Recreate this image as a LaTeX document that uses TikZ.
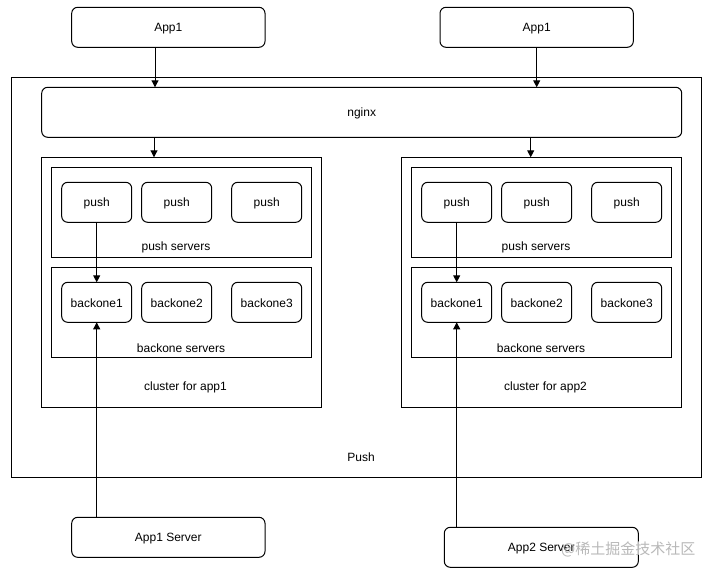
\documentclass[tikz,border=0pt]{standalone}
\usepackage{fontspec}
\setmainfont{Liberation Sans}
\newfontfamily\cjk{Noto Sans CJK SC}
\usetikzlibrary{arrows.meta}
\begin{document}
\begin{tikzpicture}[x=1pt,y=-1pt,
  font=\fontsize{12}{14}\selectfont,
  every node/.style={inner sep=0pt},
  rbox/.style={draw, rounded corners=6pt, line width=1pt},
  sbox/.style={draw, line width=1pt},
  lbl/.style={anchor=center, yshift=-1pt},
  conn/.style={line width=1pt, -{Triangle[length=7pt,width=7pt]}}]
\useasboundingbox (0,0) rectangle (714,577);
% outer Push box
\draw[sbox] (11.7,77.3) rectangle (701.7,477.3);
\node[lbl] (pushlbl) at (361,456) {Push};
% top apps
\draw[rbox] (71.7,7.3) rectangle (265,47.3);
\node[lbl] (app1a) at (168.3,27.3) {App1};
\coordinate (app1aS) at (155,47.3);
\draw[rbox] (440,7.3) rectangle (633.3,47.3);
\node[lbl] (app1b) at (536.7,27.3) {App1};
\coordinate (app1bS) at (536.7,47.3);
% nginx
\draw[rbox] (41.7,87.3) rectangle (681.7,137.3);
\node[lbl] (nginx) at (361.7,112.3) {nginx};
\coordinate (ngxT1) at (155,87.3);
\coordinate (ngxT2) at (536.7,87.3);
\coordinate (ngxB1) at (154,137.3);
\coordinate (ngxB2) at (530.7,137.3);
\coordinate (cl1T) at (154,157.3);
\coordinate (cl2T) at (530.7,157.3);
\draw[conn] (app1aS) -- (ngxT1);
\draw[conn] (app1bS) -- (ngxT2);
\draw[conn] (ngxB1) -- (cl1T);
\draw[conn] (ngxB2) -- (cl2T);
% clusters
\foreach \dx/\n in {0/1,360/2} {
  \begin{scope}[xshift=\dx]
  \draw[sbox] (41.7,157.3) rectangle (321.7,407.3);
  \node[lbl] at (185.5,386) {cluster for app\n};
  \draw[sbox] (51.7,167.3) rectangle (311.7,257.3);
  \node[lbl] at (176,246.5) {push servers};
  \draw[sbox] (51.7,267.3) rectangle (311.7,357.3);
  \node[lbl] at (181,347) {backone servers};
  \draw[rbox] (61.7,182.3) rectangle (131.7,222.3);
  \node[lbl] (pA\n) at (96.7,202.3) {push};
  \draw[rbox] (141.7,182.3) rectangle (211.7,222.3);
  \node[lbl] (pB\n) at (176.7,202.3) {push};
  \draw[rbox] (231.7,182.3) rectangle (301.7,222.3);
  \node[lbl] (pC\n) at (266.7,202.3) {push};
  \draw[rbox] (61.7,282.3) rectangle (131.7,322.3);
  \node[lbl] (bA\n) at (96.7,302.3) {backone1};
  \draw[rbox] (141.7,282.3) rectangle (211.7,322.3);
  \node[lbl] (bB\n) at (176.7,302.3) {backone2};
  \draw[rbox] (231.7,282.3) rectangle (301.7,322.3);
  \node[lbl] (bC\n) at (266.7,302.3) {backone3};
  \coordinate (pAs\n) at (96.7,222.3);
  \coordinate (bAn\n) at (96.7,282.3);
  \coordinate (bAs\n) at (96.7,322.3);
  \draw[conn] (pAs\n) -- (bAn\n);
  \end{scope}
}
% servers
\draw[rbox] (71.7,517.3) rectangle (265,557.3);
\node[lbl] (srv1) at (168.3,537.3) {App1 Server};
\coordinate (srv1N) at (96.7,517.3);
\coordinate (b1S) at (96.7,322.3);
\draw[conn] (srv1N) -- (b1S);
\draw[rbox] (444.3,527.3) rectangle (638.3,567.3);
\node[lbl] (srv2) at (541.3,547.3) {App2 Server};
\coordinate (srv2N) at (456.7,527.3);
\coordinate (b2S) at (456.7,322.3);
\draw[conn] (srv2N) -- (b2S);
% watermark
\node[anchor=west, text=black!28, font=\cjk\fontsize{15}{17}\selectfont] (wm) at (561,549.5) {@稀土掘金技术社区};
\end{tikzpicture}
\end{document}
